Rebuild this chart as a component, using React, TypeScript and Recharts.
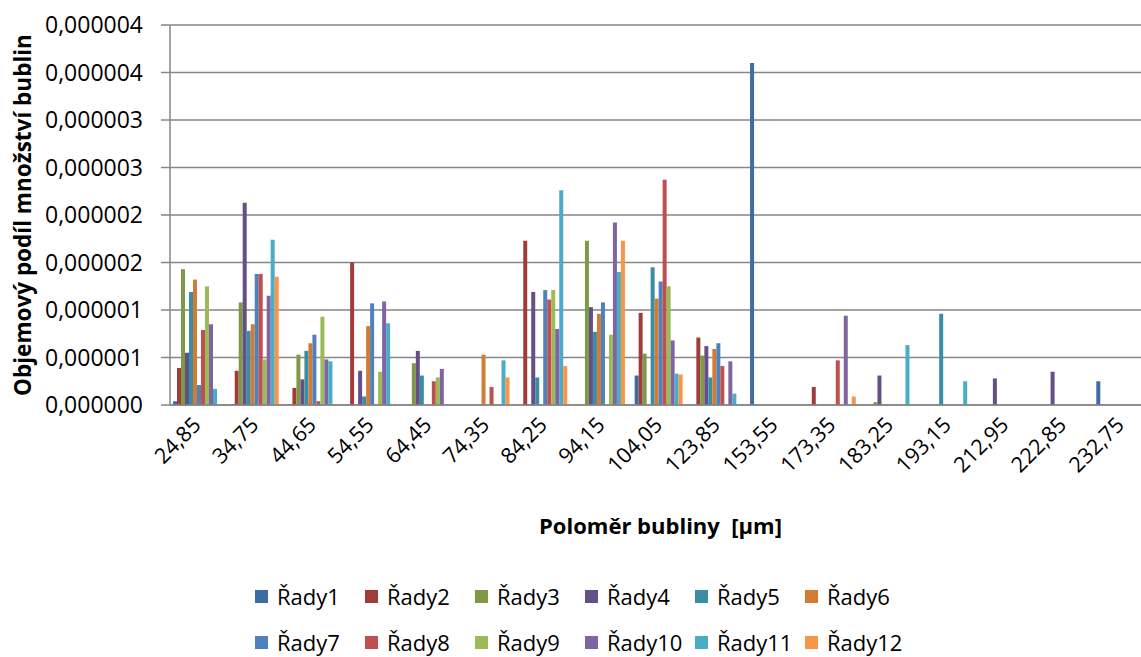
import React from "react";
import { BarChart, Bar, XAxis, YAxis, CartesianGrid, Label } from "recharts";

// Category labels (bubble radius, µm)
const categories = [
  "24,85", "34,75", "44,65", "54,55", "64,45", "74,35", "84,25", "94,15", "104,05",
  "123,85", "153,55", "173,35", "183,25", "193,15", "212,95", "222,85", "232,75",
];

// Series values, in units of 1e-6
const rady1 = [0.04, 0.01, 0.005, 0, 0, 0, 0, 0, 0.31, 0, 3.6, 0, 0, 0, 0, 0, 0.25];
const rady2 = [0.39, 0.36, 0.18, 1.5, 0, 0, 1.73, 0, 0.97, 0.71, 0, 0.19, 0, 0, 0, 0, 0];
const rady3 = [1.43, 1.08, 0.53, 0, 0.44, 0, 0, 1.73, 0.54, 0.52, 0, 0, 0.03, 0, 0, 0, 0];
const rady4 = [0.55, 2.13, 0.27, 0.36, 0.57, 0, 1.19, 1.03, 0, 0.62, 0, 0, 0.31, 0, 0.28, 0.35, 0];
const rady5 = [1.19, 0.78, 0.57, 0.09, 0.31, 0, 0.29, 0.77, 1.45, 0.29, 0, 0, 0, 0.96, 0, 0, 0];
const rady6 = [1.32, 0.85, 0.65, 0.83, 0, 0.53, 0, 0.96, 1.12, 0.59, 0, 0, 0, 0, 0, 0, 0];
const rady7 = [0.21, 1.38, 0.74, 1.07, 0, 0, 1.21, 1.08, 1.3, 0.65, 0, 0, 0, 0, 0, 0, 0];
const rady8 = [0.79, 1.38, 0.04, 0, 0.25, 0.19, 1.11, 0, 2.37, 0.41, 0, 0.47, 0, 0, 0, 0, 0];
const rady9 = [1.25, 0.48, 0.93, 0.35, 0.29, 0, 1.21, 0.74, 1.25, 0, 0, 0, 0, 0, 0, 0, 0];
const rady10 = [0.85, 1.15, 0.48, 1.09, 0.38, 0, 0.8, 1.92, 0.68, 0.46, 0, 0.94, 0, 0, 0, 0, 0];
const rady11 = [0.17, 1.74, 0.46, 0.86, 0, 0.47, 2.26, 1.4, 0.33, 0.12, 0, 0, 0.63, 0.25, 0, 0, 0];
const rady12 = [0, 1.35, 0, 0, 0, 0.29, 0.41, 1.73, 0.32, 0, 0, 0.09, 0, 0, 0, 0, 0];

const seriesNames = [
  "Řady1", "Řady2", "Řady3", "Řady4", "Řady5", "Řady6",
  "Řady7", "Řady8", "Řady9", "Řady10", "Řady11", "Řady12",
];
const seriesValues = [rady1, rady2, rady3, rady4, rady5, rady6, rady7, rady8, rady9, rady10, rady11, rady12];
const seriesColors = [
  "#3E6CA2", "#A03D3B", "#7E9A48", "#654F87", "#3A8DA5", "#D27C33",
  "#4F81BD", "#C0504D", "#9BBB59", "#8064A2", "#4BACC6", "#F79646",
];

// Y axis ticks (units of 1e-6) and their printed labels
const yTicks = [0, 0.5, 1, 1.5, 2, 2.5, 3, 3.5, 4];
const yTickLabels = [
  "0,000000", "0,000001", "0,000001", "0,000002", "0,000002",
  "0,000003", "0,000003", "0,000004", "0,000004",
];

const yTitle = "Objemový podíl množství bublin";
const xTitle = "Poloměr bubliny\u00a0 [µm]";

const data = categories.map((c, i) => {
  const row: Record<string, string | number> = { cat: c };
  seriesNames.forEach((n, s) => {
    row[n] = seriesValues[s][i];
  });
  return row;
});

const FONT = "'Open Sans', 'Liberation Sans', sans-serif";

const XTick = (props: any) => {
  const { x, payload } = props;
  const ax = x - 2;
  const ay = 421;
  return (
    <text
      x={ax}
      y={ay}
      dy="0.35em"
      textAnchor="end"
      transform={`rotate(-45 ${ax} ${ay})`}
      fontFamily={FONT}
      fontSize={21.5}
      fill="#000"
    >
      {payload.value}
    </text>
  );
};

const YTick = (props: any) => {
  const { x, y, payload, index } = props;
  const idx = yTicks.indexOf(payload.value);
  return (
    <text x={x} y={y} dy="0.35em" textAnchor="end" fontFamily={FONT} fontSize={23} fill="#000">
      {yTickLabels[idx >= 0 ? idx : index]}
    </text>
  );
};

const YTitle = (props: any) => {
  const vb = props.viewBox;
  const cx = 22;
  const cy = vb.y + vb.height / 2;
  return (
    <text
      x={cx}
      y={cy}
      textAnchor="middle"
      dominantBaseline="central"
      transform={`rotate(-90 ${cx} ${cy})`}
      fontFamily={FONT}
      fontWeight="bold"
      fontSize={22.5}
      fill="#000"
    >
      {yTitle}
    </text>
  );
};

const XTitle = (props: any) => {
  const vb = props.viewBox;
  return (
    <text
      x={vb.x + vb.width / 2}
      y={525}
      textAnchor="middle"
      dominantBaseline="central"
      fontFamily={FONT}
      fontWeight="bold"
      fontSize={22}
      fill="#000"
    >
      {xTitle}
    </text>
  );
};

const LegendBlock = () => (
  <div
    style={{
      position: "absolute",
      left: 255,
      top: 580,
      width: 700,
      display: "grid",
      gridTemplateColumns: "repeat(6, 110px)",
      rowGap: 14,
      fontFamily: FONT,
      fontSize: 22,
      color: "#000",
    }}
  >
    {seriesNames.map((n, i) => (
      <div key={n} style={{ display: "flex", alignItems: "center", height: 32, whiteSpace: "nowrap" }}>
        <span
          style={{
            display: "inline-block",
            width: 13,
            height: 13,
            background: seriesColors[i],
            marginRight: 9,
          }}
        />
        <span>{n}</span>
      </div>
    ))}
  </div>
);

export default function App() {
  return (
    <div
      style={{
        position: "absolute",
        left: 0,
        top: 0,
        width: 1141,
        height: 657,
        overflow: "hidden",
        background: "#fff",
      }}
    >
      <BarChart
        width={1160}
        height={657}
        data={data}
        margin={{ top: 25, right: 9, left: 0, bottom: 0 }}
        barCategoryGap={3}
        barGap={0}
      >
        <CartesianGrid vertical={false} stroke="#868686" strokeWidth={1.5} />
        <XAxis
          dataKey="cat"
          height={252}
          interval={0}
          tickLine={false}
          axisLine={{ stroke: "#868686", strokeWidth: 1.5 }}
          tick={<XTick />}
        >
          <Label content={<XTitle />} />
        </XAxis>
        <YAxis
          width={170}
          domain={[0, 4]}
          ticks={yTicks}
          interval={0}
          tickSize={9}
          tickMargin={18}
          tickLine={{ stroke: "#868686", strokeWidth: 1.5 }}
          axisLine={{ stroke: "#868686", strokeWidth: 1.5 }}
          tick={<YTick />}
        >
          <Label content={<YTitle />} />
        </YAxis>
        {seriesNames.map((n, i) => (
          <Bar key={n} dataKey={n} fill={seriesColors[i]} isAnimationActive={false} />
        ))}
      </BarChart>
      <LegendBlock />
    </div>
  );
}
